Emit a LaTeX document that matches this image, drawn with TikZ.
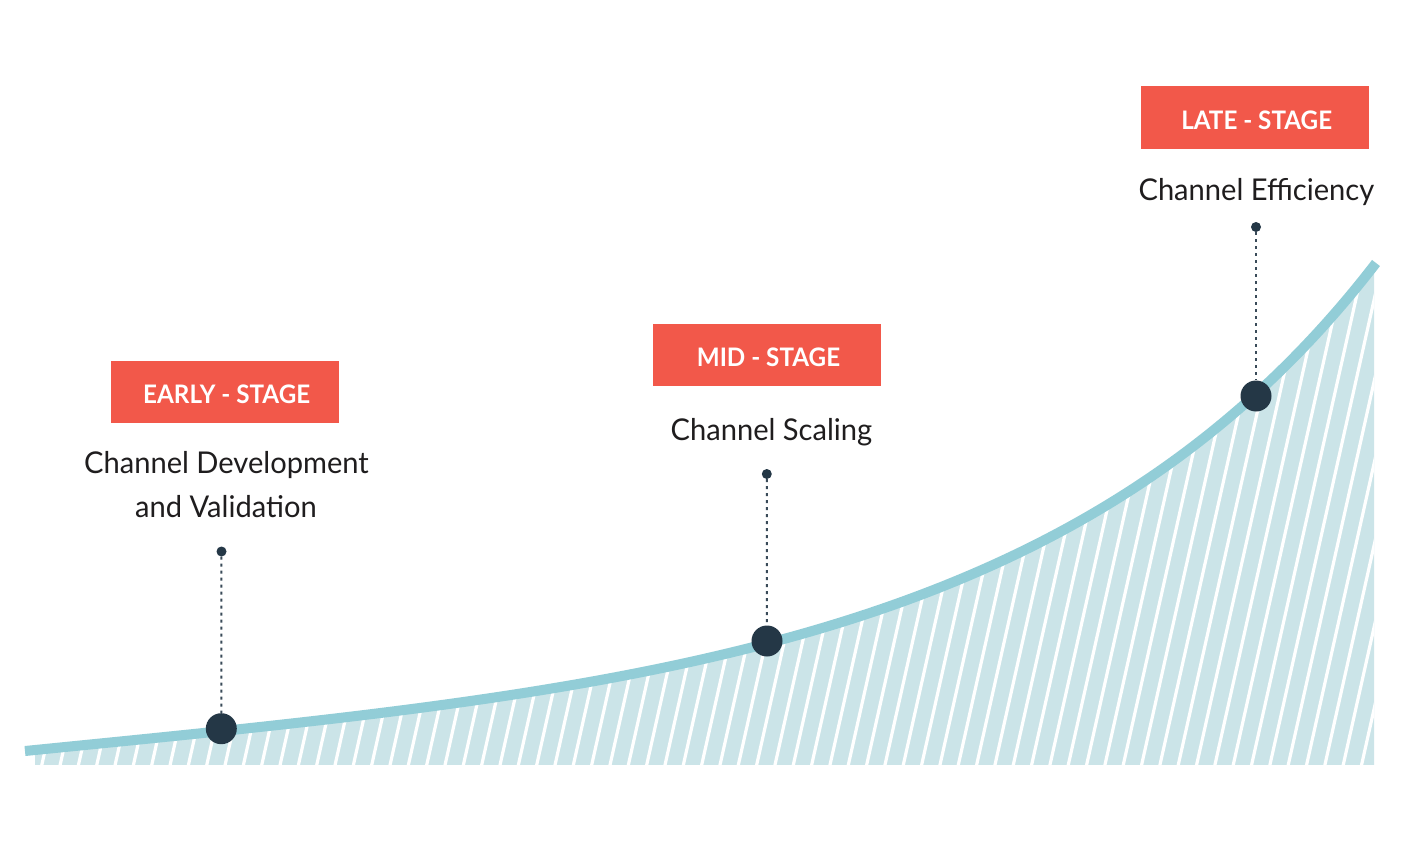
\documentclass[tikz,border=0pt]{standalone}
\usepackage{fontspec}
\setmainfont{Lato}[FakeStretch=0.97]
\newfontfamily\boldfam{Lato Bold}[FakeStretch=0.95]
\definecolor{curvecol}{HTML}{92CDD7}
\definecolor{fillcol}{HTML}{CBE4E8}
\definecolor{dotcol}{HTML}{243746}
\definecolor{boxcol}{HTML}{F2584A}
\definecolor{txtcol}{HTML}{1F1D1E}
\begin{document}
\begin{tikzpicture}[x=1pt,y=-1pt,
  stagebox/.style={draw=none,fill=boxcol,minimum width=228pt,minimum height=62pt,inner sep=0pt},
  stagetxt/.style={text=white,font=\boldfam\fontsize{25.5}{30}\selectfont,inner sep=0pt,anchor=base},
  desctxt/.style={text=txtcol,font=\fontsize{30}{36}\selectfont,inner sep=0pt,anchor=base},
  bigdot/.style={circle,fill=dotcol,minimum size=31pt,inner sep=0pt},
  smalldot/.style={circle,fill=dotcol,minimum size=10pt,inner sep=0pt},
  conn/.style={draw=dotcol!90!white,line width=2pt,dash pattern=on 3pt off 4pt},
  curveline/.style={draw=curvecol,line width=10pt,line cap=butt}]
\useasboundingbox (0,0) rectangle (1401,851);
\fill[white] (0,0) rectangle (1401,851);
% hatched area
\begin{scope}
  \clip (35,0) rectangle (1374,764.5);
  \fill[fillcol] (25,751) .. controls (625,691) and (1076,653) .. (1376,263)
     -- (1400,263) -- (1400,800) -- (0,800) -- cycle;
  \foreach \n in {-3,...,75}{
    \pgfmathsetmacro{\xz}{42+18.33*\n}
    \draw[white,line width=3.2pt] (\xz-0.224*20,784) -- (\xz+0.224*560,204);
  }
  \fill[white] (25,751) .. controls (625,691) and (1076,653) .. (1376,263)
     -- (1400,263) -- (1400,0) -- (0,0) -- cycle;
\end{scope}
\draw[curveline] (25,751) .. controls (625,691) and (1076,653) .. (1376,263);
% stages
\node[stagebox] (early) at (225.2,391.8) {};
\node[stagetxt] (earlyt) at (226.7,403.3) {EARLY - STAGE};
\node[desctxt] (earlyd1) at (226.5,473) {Channel Development};
\node[desctxt] (earlyd2) at (226,517) {and Validation};
\node[smalldot] (s1) at (221.5,551.5) {};
\node[bigdot] (b1) at (221.3,728.7) {};
\draw[conn] (s1) -- (b1);

\node[stagebox] (mid) at (767.3,355) {};
\node[stagetxt] (midt) at (768.5,366.7) {MID - STAGE};
\node[desctxt] (midd) at (771.5,440.7) {Channel Scaling};
\node[smalldot] (s2) at (766.8,474) {};
\node[bigdot] (b2) at (767,641) {};
\draw[conn] (s2) -- (b2);

\node[stagebox] (late) at (1255,117.5) {};
\node[stagetxt] (latet) at (1256.7,129) {LATE - STAGE};
\node[desctxt] (lated) at (1256.4,200.7) {Channel Efficiency};
\node[smalldot] (s3) at (1256,227) {};
\node[bigdot] (b3) at (1256,396) {};
\draw[conn] (s3) -- (b3);
\end{tikzpicture}
\end{document}
